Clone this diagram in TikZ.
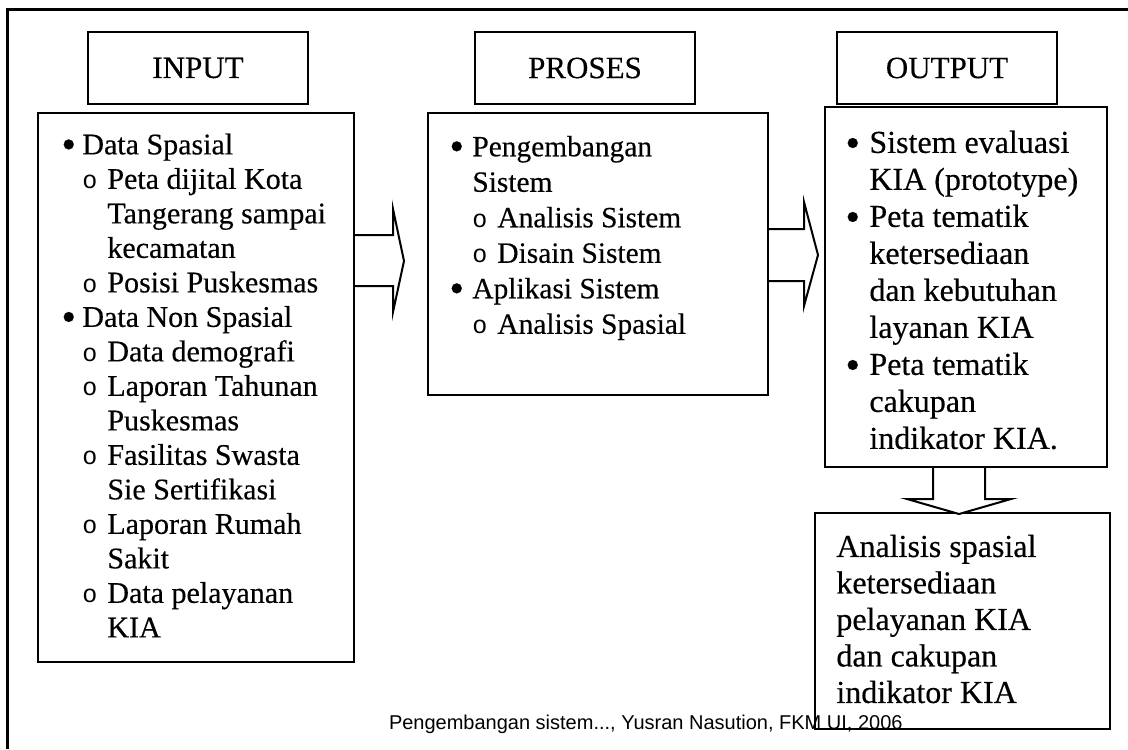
\documentclass[tikz,border=0pt]{standalone}
\usepackage{fontspec}
\setmainfont{Liberation Serif}[FakeBold=0.35]
\newfontfamily\monofont{Liberation Mono}
\newfontfamily\creditfont{Liberation Sans}
\usepackage{tikz}
\usetikzlibrary{positioning}

\newcommand{\hollow}{{\monofont\fontsize{12.5}{12.5}\selectfont o}}
\newcommand{\fullbul}{\raisebox{-2pt}{\fontsize{21}{21}\selectfont\textbullet}}

\tikzset{
  headbox/.style={draw, line width=1pt, minimum width=110pt, minimum height=36pt, inner sep=0pt, font=\fontsize{15.5}{18}\selectfont},
  listbox/.style={draw, line width=1pt, inner sep=0pt},
  listtext/.style={inner sep=0pt},
  blk/.style={line width=1pt, fill=white, line join=miter},
  outerframe/.style={line width=1.5pt},
  creditline/.style={inner sep=0pt, font=\creditfont\fontsize{10}{12}\selectfont}
}

\begin{document}
\begin{tikzpicture}[x=0.5pt,y=-0.5pt]
        \useasboundingbox (0,0) rectangle (1128,749);
        \draw[outerframe] (7,749) -- (7,10) -- (1128,10);

        \node[headbox] (input)  at (198,68) {INPUT};
        \node[headbox] (proses) at (585,68) {PROSES};
        \node[headbox] (output) at (947,68) {OUTPUT};

        \node[listbox, minimum width=158pt, minimum height=274.5pt] (inbox)  at (196,387.5) {};
        \node[listbox, minimum width=170pt, minimum height=141pt]   (prbox)  at (598,254) {};
        \node[listbox, minimum width=141pt, minimum height=180pt]   (outbox) at (966,287) {};
        \node[listbox, minimum width=147.5pt, minimum height=108pt] (resbox) at (962.5,621) {};

        % isi kotak input
        \node[listtext, below right=8.9pt and 12pt of inbox.north west, font=\fontsize{15}{17.25}\selectfont] (intext) {%
          \begin{tabular}{@{}p{10.5pt}@{}p{12.5pt}@{}l@{}}
          \fullbul & \multicolumn{2}{@{}l@{}}{Data Spasial}\\
          & \hollow & Peta dijital Kota\\
          & & Tangerang sampai\\
          & & kecamatan\\
          & \hollow & Posisi Puskesmas\\
          \fullbul & \multicolumn{2}{@{}l@{}}{Data Non Spasial}\\
          & \hollow & Data demografi\\
          & \hollow & Laporan Tahunan\\
          & & Puskesmas\\
          & \hollow & Fasilitas Swasta\\
          & & Sie Sertifikasi\\
          & \hollow & Laporan Rumah\\
          & & Sakit\\
          & \hollow & Data pelayanan\\
          & & KIA
          \end{tabular}};

        % isi kotak proses
        \node[listtext, below right=9.5pt and 11pt of prbox.north west, font=\fontsize{14.7}{17.75}\selectfont] (prtext) {%
          \begin{tabular}{@{}p{11.5pt}@{}p{12.5pt}@{}l@{}}
          \fullbul & \multicolumn{2}{@{}l@{}}{Pengembangan}\\
          & \multicolumn{2}{@{}l@{}}{Sistem}\\
          & \hollow & Analisis Sistem\\
          & \hollow & Disain Sistem\\
          \fullbul & \multicolumn{2}{@{}l@{}}{Aplikasi Sistem}\\
          & \hollow & Analisis Spasial
          \end{tabular}};

        % isi kotak output
        \node[listtext, below right=10.3pt and 10.5pt of outbox.north west, font=\fontsize{16}{18.5}\selectfont] (outtext) {%
          \begin{tabular}{@{}p{12pt}@{}l@{}}
          \fullbul & Sistem evaluasi\\
          & KIA (prototype)\\
          \fullbul & Peta tematik\\
          & ketersediaan\\
          & dan kebutuhan\\
          & layanan KIA\\
          \fullbul & Peta tematik\\
          & cakupan\\
          & indikator KIA.
          \end{tabular}};

        \node[listtext, below right=9.5pt and 11pt of resbox.north west, font=\fontsize{16}{18.25}\selectfont] (restext) {%
          \begin{tabular}{@{}l@{}}
          Analisis spasial\\
          ketersediaan\\
          pelayanan KIA\\
          dan cakupan\\
          indikator KIA
          \end{tabular}};

        % panah blok
        \draw[blk] (inbox.north east) ++(0,123) -- ++(38,0) -- ++(0,-26) -- ++(11,52) -- ++(-11,51) -- ++(0,-26) -- ++(-38,0);
        \draw[blk] (prbox.north east) ++(0,117) -- ++(35,0) -- ++(0,-27) -- ++(14,53) -- ++(-14,51) -- ++(0,-25) -- ++(-35,0);
        \draw[blk] (outbox.south) ++(-33,0) -- ++(0,31) -- ++(-26,0) -- ++(52,15) -- ++(52,-15) -- ++(-26,0) -- ++(0,-31);

        \node[creditline, anchor=east] (credit) at (903,724) {Pengembangan sistem..., Yusran Nasution, FKM UI, 2006};
\end{tikzpicture}
\end{document}
